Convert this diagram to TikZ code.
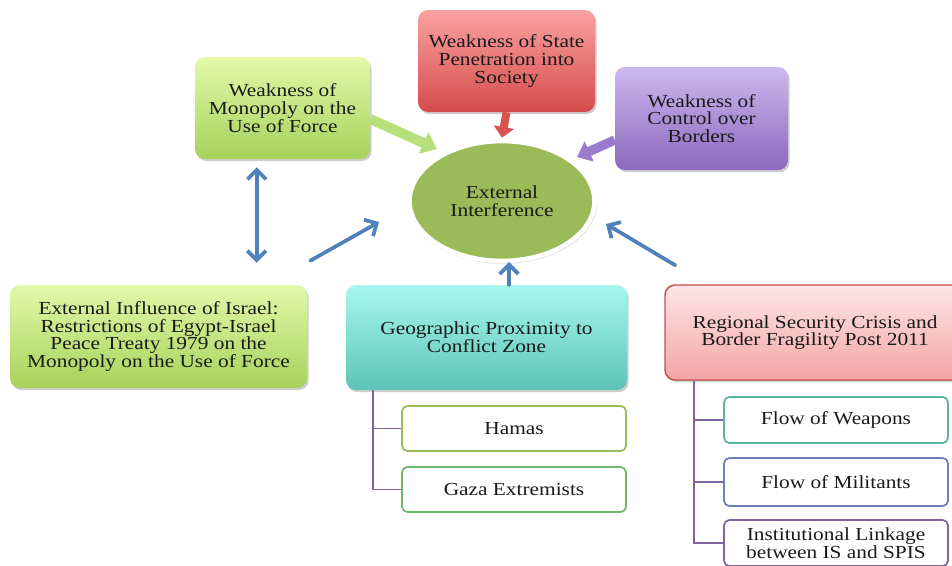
\documentclass[tikz,border=0pt]{standalone}
\usepackage{fontspec}
\setmainfont{Liberation Serif}[FakeStretch=1.16]
\usetikzlibrary{arrows.meta,shapes.geometric,shadows,calc}
\definecolor{txt}{HTML}{1A1A1A}
\definecolor{gTop}{HTML}{E2F9AA}
\definecolor{gBot}{HTML}{A6D25A}
\definecolor{rTop}{HTML}{FAA2A2}
\definecolor{rBot}{HTML}{D54B4B}
\definecolor{pTop}{HTML}{CDB8EE}
\definecolor{pBot}{HTML}{8C68BE}
\definecolor{cTop}{HTML}{A8F8EE}
\definecolor{cBot}{HTML}{5CC3B6}
\definecolor{lrTop}{HTML}{FDE6E6}
\definecolor{lrBot}{HTML}{F4A4A4}
\definecolor{lrLine}{HTML}{C0504D}
\definecolor{eiFill}{HTML}{9BBB59}
\definecolor{gArrow}{HTML}{B8E07A}
\definecolor{rArrow}{HTML}{D9534F}
\definecolor{pArrow}{HTML}{9A7BCF}
\definecolor{bArrow}{HTML}{4F81BD}
\definecolor{treeLine}{HTML}{8064A2}
\definecolor{subHamas}{HTML}{9BBB59}
\definecolor{subGaza}{HTML}{6CBB6C}
\definecolor{subWeap}{HTML}{5AB3A3}
\definecolor{subMil}{HTML}{6C80BE}
\definecolor{subInst}{HTML}{8064A2}
\begin{document}
\begin{tikzpicture}[x=0.75pt,y=-0.75pt,
  every node/.style={text=txt, align=center, font=\fontsize{13.8}{13.3}\selectfont},
  softshadow/.style={drop shadow={shadow xshift=1.2pt, shadow yshift=-1.6pt, opacity=0.35, fill=black!55}},
  bigbox/.style={rectangle, rounded corners=7.5pt, inner sep=2pt, softshadow},
  greenbox/.style={bigbox, top color=gTop, bottom color=gBot},
  redbox/.style={bigbox, top color=rTop, bottom color=rBot},
  purplebox/.style={bigbox, top color=pTop, bottom color=pBot},
  cyanbox/.style={bigbox, top color=cTop, bottom color=cBot},
  pinkbox/.style={bigbox, top color=lrTop, bottom color=lrBot, draw=lrLine, line width=1.1pt},
  subbox/.style={rectangle, rounded corners=4pt, fill=white, line width=1.3pt, minimum width=168pt, inner sep=1pt},
  treeline/.style={draw=treeLine, line width=1.4pt},
  garrow/.style={draw=gArrow, line width=7.5pt, -{Triangle[width=17pt,length=11pt]}},
  rarrow/.style={draw=rArrow, line width=6pt, -{Triangle[width=15pt,length=8pt]}},
  parrow/.style={draw=pArrow, line width=7pt, -{Triangle[width=16pt,length=10pt]}},
  barrow/.style={draw=bArrow, line width=2.8pt, line cap=round, -{Straight Barb[length=7pt,width=14pt]}},
  bdarrow/.style={draw=bArrow, line width=2.8pt, line cap=round, {Straight Barb[length=7pt,width=14pt]}-{Straight Barb[length=7pt,width=14pt]}}
]
\useasboundingbox (0,0) rectangle (952,565);
\clip (0,0) rectangle (952,565);

% main boxes
\node[greenbox, minimum width=131.25pt, minimum height=76.5pt] (wm) at (282.5,108) {Weakness of\\Monopoly on the\\Use of Force};
\node[redbox, minimum width=132.75pt, minimum height=76.5pt] (wsp) at (506.5,61) {Weakness of State\\Penetration into\\Society};
\node[purplebox, minimum width=129.75pt, minimum height=77.25pt] (wc) at (701.5,118.5) {Weakness of\\Control over\\Borders};
\node[ellipse, minimum width=138.75pt, minimum height=90pt, inner sep=0pt, fill=eiFill, draw=white, line width=3.5pt,
      drop shadow={shadow xshift=0.5pt, shadow yshift=-1.2pt, shadow scale=1.02, opacity=0.3, fill=black!50}] (ei) at (502,201) {External\\Interference};

\node[greenbox, minimum width=222.75pt, minimum height=77.25pt] (bl) at (158.5,336.5) {External Influence of Israel:\\Restrictions of Egypt-Israel\\Peace Treaty 1979 on the\\Monopoly on the Use of Force};
\node[cyanbox, minimum width=210.75pt, minimum height=78.75pt] (geo) at (486.5,337.5) {Geographic Proximity to\\Conflict Zone};
\node[pinkbox, minimum width=225pt, minimum height=71.25pt] (rs) at (815,332.5) {Regional Security Crisis and\\Border Fragility Post 2011};

% sub boxes
\node[subbox, draw=subHamas, minimum height=33.75pt] (hamas) at (514,428.5) {Hamas};
\node[subbox, draw=subGaza, minimum height=33.75pt] (gaza) at (514,489.5) {Gaza Extremists};
\node[subbox, draw=subWeap, minimum height=34.5pt] (fw) at (836,420) {Flow of Weapons};
\node[subbox, draw=subMil, minimum height=36pt] (fm) at (836,482) {Flow of Militants};
\node[subbox, draw=subInst, minimum height=34.5pt] (il) at (836,543) {Institutional Linkage\\between IS and SPIS};

% tree connectors
\coordinate (gt) at ($(geo.south west)+(27,0)$);
\draw[treeline] (gt) |- (hamas.west);
\draw[treeline] (gt) |- (gaza.west);
\coordinate (rt) at ($(rs.south west)+(30,0)$);
\draw[treeline] (rt) |- (fw.west);
\draw[treeline] (rt) |- (fm.west);
\draw[treeline] (rt) |- (il.west);

% block arrows into the ellipse
\coordinate (ga1) at ($(wm.east)+(0,11)$);
\coordinate (ga2) at ($(ei.center)+(-65,-52)$);
\draw[garrow] (ga1) -- (ga2);
\draw[rarrow] (wsp.south) -- ($(ei.north)+(0,-1)$);
\coordinate (pa1) at ($(wc.west)+(0,21.5)$);
\coordinate (pa2) at ($(ei.center)+(75,-44)$);
\draw[parrow] (pa1) -- (pa2);

% blue arrows
\coordinate (bd1) at ($(wm.south west)+(62,8)$);
\coordinate (bd2) at ($(bl.north west)+(247,-22)$);
\draw[bdarrow] (bd1) -- (bd2);
\coordinate (bl1) at ($(bl.north east)+(3,-24)$);
\coordinate (bl2) at ($(ei.center)+(-123,21)$);
\draw[barrow] (bl1) -- (bl2);
\coordinate (bu1) at ($(geo.north)+(22.5,0)$);
\coordinate (bu2) at ($(ei.center)+(7,61)$);
\draw[barrow] (bu1) -- (bu1 |- bu2);
\coordinate (br1) at ($(rs.north west)+(11,-19)$);
\coordinate (br2) at ($(ei.center)+(104,23)$);
\draw[barrow] (br1) -- (br2);
\end{tikzpicture}
\end{document}
